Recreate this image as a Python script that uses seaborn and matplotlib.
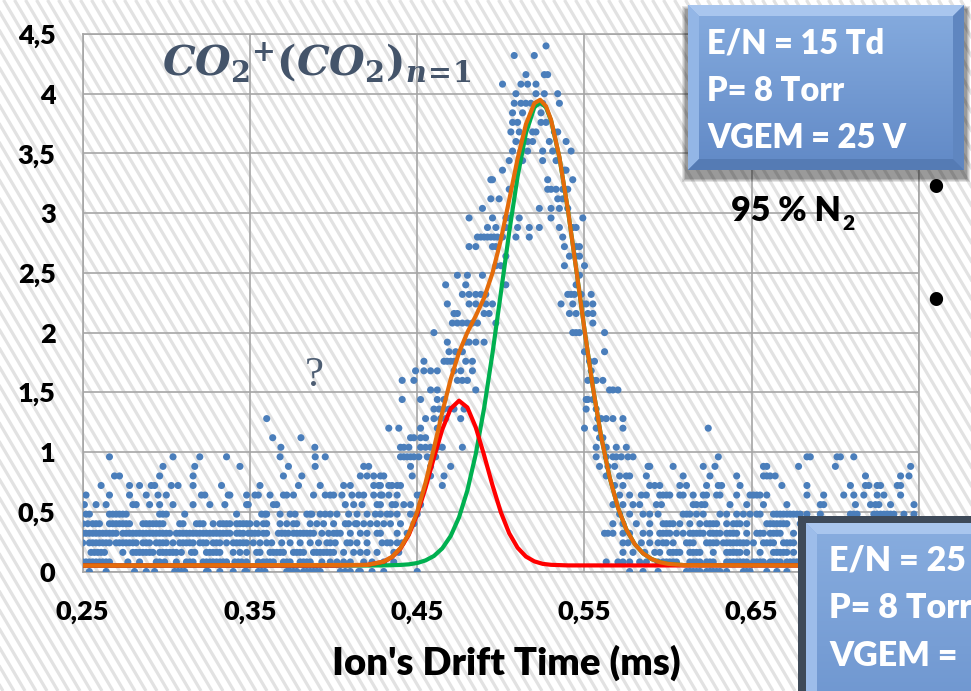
import numpy as np
import pandas as pd
import matplotlib
matplotlib.use("Agg")
import matplotlib.pyplot as plt
import seaborn as sns
from matplotlib.patches import Rectangle, Polygon
from matplotlib.collections import LineCollection
from matplotlib.colors import LinearSegmentedColormap

# ---------------- data ----------------
# signal is quantised in steps of 0.08; each list = drift times (ms) of the dots at that level
y000 = [0.254, 0.264, 0.281, 0.288, 0.293, 0.305, 0.307, 0.309, 0.311, 0.324, 0.325, 0.332, 0.340, 0.347, 0.348,
        0.355, 0.357, 0.359, 0.372, 0.373, 0.374, 0.376, 0.378, 0.382, 0.384, 0.386, 0.388, 0.390, 0.392, 0.404,
        0.407, 0.410, 0.415, 0.416, 0.423, 0.430, 0.450, 0.577, 0.585, 0.594, 0.611, 0.613, 0.615, 0.617, 0.619,
        0.623, 0.625, 0.627, 0.629, 0.631, 0.635, 0.645, 0.647, 0.649, 0.659, 0.665, 0.671]
y008 = [0.250, 0.252, 0.254, 0.256, 0.258, 0.260, 0.262, 0.264, 0.266, 0.277, 0.284, 0.294, 0.296, 0.299, 0.306,
        0.312, 0.314, 0.316, 0.322, 0.324, 0.326, 0.328, 0.330, 0.332, 0.334, 0.336, 0.341, 0.343, 0.345, 0.348,
        0.355, 0.358, 0.360, 0.362, 0.364, 0.370, 0.372, 0.374, 0.380, 0.382, 0.384, 0.386, 0.393, 0.398, 0.402,
        0.406, 0.410, 0.418, 0.423, 0.430, 0.436, 0.563, 0.570, 0.573, 0.577, 0.583, 0.587, 0.594, 0.597, 0.599,
        0.601, 0.603, 0.605, 0.613, 0.615, 0.617, 0.619, 0.623, 0.625, 0.627, 0.635, 0.637, 0.639, 0.641, 0.643,
        0.645, 0.647, 0.651, 0.653, 0.655, 0.657, 0.661, 0.663, 0.665, 0.667, 0.671, 0.673, 0.675, 0.677]
y016 = [0.255, 0.257, 0.259, 0.261, 0.263, 0.274, 0.280, 0.282, 0.284, 0.286, 0.288, 0.290, 0.292, 0.296, 0.298,
        0.300, 0.302, 0.304, 0.306, 0.309, 0.315, 0.317, 0.324, 0.326, 0.328, 0.330, 0.332, 0.340, 0.344, 0.348,
        0.354, 0.356, 0.362, 0.364, 0.366, 0.368, 0.370, 0.376, 0.378, 0.380, 0.382, 0.388, 0.390, 0.392, 0.394,
        0.396, 0.398, 0.400, 0.406, 0.412, 0.416, 0.420, 0.426, 0.436, 0.439, 0.573, 0.579, 0.586, 0.592, 0.595,
        0.601, 0.603, 0.605, 0.607, 0.613, 0.615, 0.617, 0.619, 0.627, 0.635, 0.637, 0.639, 0.641, 0.643, 0.647,
        0.655, 0.663, 0.665, 0.667, 0.669, 0.671, 0.675]
y024 = [0.250, 0.254, 0.256, 0.258, 0.260, 0.262, 0.264, 0.266, 0.270, 0.272, 0.274, 0.276, 0.278, 0.280, 0.282,
        0.286, 0.288, 0.290, 0.294, 0.296, 0.298, 0.300, 0.304, 0.308, 0.310, 0.312, 0.314, 0.316, 0.320, 0.322,
        0.324, 0.328, 0.330, 0.332, 0.336, 0.340, 0.342, 0.344, 0.346, 0.348, 0.352, 0.356, 0.360, 0.363, 0.369,
        0.374, 0.380, 0.386, 0.391, 0.396, 0.398, 0.401, 0.408, 0.410, 0.414, 0.420, 0.429, 0.432, 0.434, 0.438,
        0.441, 0.573, 0.576, 0.584, 0.589, 0.594, 0.597, 0.599, 0.603, 0.611, 0.613, 0.615, 0.623, 0.625, 0.627,
        0.629, 0.633, 0.635, 0.637, 0.639, 0.641, 0.643, 0.645, 0.647, 0.651, 0.657, 0.659, 0.661, 0.663, 0.669,
        0.671, 0.673, 0.675]
y032 = [0.250, 0.252, 0.254, 0.256, 0.258, 0.260, 0.262, 0.264, 0.266, 0.268, 0.270, 0.274, 0.276, 0.278, 0.280,
        0.282, 0.284, 0.286, 0.288, 0.290, 0.292, 0.294, 0.296, 0.298, 0.300, 0.302, 0.306, 0.308, 0.310, 0.312,
        0.314, 0.316, 0.318, 0.320, 0.322, 0.324, 0.326, 0.328, 0.330, 0.332, 0.334, 0.336, 0.338, 0.342, 0.344,
        0.346, 0.349, 0.351, 0.353, 0.355, 0.358, 0.360, 0.367, 0.369, 0.371, 0.373, 0.376, 0.378, 0.380, 0.382,
        0.384, 0.386, 0.388, 0.393, 0.397, 0.400, 0.402, 0.404, 0.410, 0.416, 0.420, 0.426, 0.428, 0.438, 0.444,
        0.562, 0.564, 0.567, 0.573, 0.577, 0.585, 0.589, 0.595, 0.597, 0.599, 0.601, 0.605, 0.609, 0.613, 0.615,
        0.617, 0.619, 0.621, 0.625, 0.627, 0.629, 0.631, 0.635, 0.637, 0.639, 0.641, 0.647, 0.653, 0.655, 0.657,
        0.661, 0.663, 0.665, 0.667, 0.675]
y040 = [0.250, 0.253, 0.256, 0.258, 0.260, 0.266, 0.268, 0.270, 0.272, 0.274, 0.276, 0.278, 0.286, 0.288, 0.290,
        0.292, 0.294, 0.296, 0.298, 0.308, 0.310, 0.318, 0.320, 0.322, 0.328, 0.332, 0.334, 0.336, 0.338, 0.342,
        0.344, 0.346, 0.348, 0.350, 0.354, 0.358, 0.360, 0.368, 0.372, 0.376, 0.378, 0.386, 0.390, 0.394, 0.400,
        0.407, 0.409, 0.413, 0.414, 0.418, 0.422, 0.426, 0.430, 0.434, 0.440, 0.448, 0.567, 0.573, 0.581, 0.589,
        0.597, 0.599, 0.601, 0.603, 0.607, 0.613, 0.619, 0.623, 0.625, 0.627, 0.629, 0.635, 0.639, 0.641, 0.643,
        0.647, 0.659, 0.661, 0.663, 0.665, 0.667, 0.669, 0.671, 0.679]
y048 = [0.252, 0.254, 0.266, 0.268, 0.270, 0.272, 0.274, 0.276, 0.296, 0.298, 0.300, 0.311, 0.342, 0.357, 0.359,
        0.360, 0.368, 0.374, 0.377, 0.384, 0.386, 0.387, 0.392, 0.395, 0.398, 0.402, 0.409, 0.414, 0.420, 0.425,
        0.428, 0.432, 0.434, 0.438, 0.446, 0.450, 0.571, 0.577, 0.585, 0.589, 0.594, 0.609, 0.611, 0.613, 0.617,
        0.621, 0.631, 0.635, 0.641, 0.645, 0.649, 0.653, 0.655, 0.663, 0.665, 0.667, 0.669, 0.671, 0.673, 0.675,
        0.677, 0.679, 0.683, 0.691, 0.709, 0.711, 0.713, 0.723, 0.725, 0.727, 0.729, 0.731, 0.733, 0.735, 0.741,
        0.747]
y056 = [0.251, 0.258, 0.264, 0.280, 0.282, 0.290, 0.296, 0.304, 0.316, 0.326, 0.335, 0.348, 0.349, 0.364, 0.366,
        0.407, 0.412, 0.417, 0.426, 0.428, 0.435, 0.437, 0.442, 0.446, 0.452, 0.567, 0.573, 0.579, 0.583, 0.593,
        0.596, 0.615, 0.617, 0.620, 0.622, 0.637, 0.647, 0.657, 0.671, 0.691, 0.693, 0.712, 0.721, 0.724, 0.726,
        0.733, 0.747]
y064 = [0.252, 0.266, 0.278, 0.288, 0.295, 0.300, 0.321, 0.323, 0.337, 0.338, 0.348, 0.353, 0.355, 0.362, 0.370,
        0.372, 0.376, 0.388, 0.395, 0.398, 0.400, 0.405, 0.411, 0.415, 0.418, 0.424, 0.428, 0.429, 0.433, 0.438,
        0.450, 0.452, 0.571, 0.577, 0.584, 0.587, 0.595, 0.597, 0.599, 0.601, 0.607, 0.609, 0.615, 0.621, 0.623,
        0.629, 0.631, 0.641, 0.649, 0.651, 0.653, 0.655, 0.659, 0.683, 0.693, 0.705, 0.711, 0.717, 0.725, 0.729,
        0.739]
y072 = [0.261, 0.278, 0.284, 0.291, 0.293, 0.303, 0.307, 0.316, 0.333, 0.356, 0.379, 0.392, 0.406, 0.410, 0.424,
        0.427, 0.428, 0.433, 0.435, 0.438, 0.440, 0.465, 0.568, 0.573, 0.589, 0.592, 0.595, 0.607, 0.611, 0.623,
        0.630, 0.632, 0.643, 0.668, 0.683, 0.709, 0.718, 0.720, 0.725, 0.727, 0.737, 0.739]
y080 = [0.269, 0.272, 0.296, 0.316, 0.370, 0.381, 0.416, 0.420, 0.424, 0.428, 0.430, 0.447, 0.458, 0.466, 0.563,
        0.571, 0.575, 0.577, 0.587, 0.609, 0.625, 0.641, 0.657, 0.659, 0.661, 0.664, 0.718, 0.739, 0.744]
y088 = [0.298, 0.317, 0.344, 0.373, 0.389, 0.418, 0.421, 0.446, 0.458, 0.470, 0.559, 0.564, 0.568, 0.588, 0.589,
        0.603, 0.621, 0.628, 0.657, 0.659, 0.678, 0.700, 0.745]
y096 = [0.266, 0.304, 0.320, 0.336, 0.368, 0.389, 0.395, 0.440, 0.442, 0.444, 0.446, 0.448, 0.451, 0.456, 0.459,
        0.461, 0.557, 0.563, 0.567, 0.569, 0.572, 0.576, 0.579, 0.630, 0.683, 0.685, 0.701, 0.703, 0.711]
y104 = [0.3685, 0.3888, 0.440, 0.442, 0.445, 0.452, 0.455, 0.458, 0.462, 0.465, 0.477, 0.557, 0.563, 0.569, 0.575]
y112 = [0.3636, 0.3805, 0.446, 0.448, 0.452, 0.455, 0.559, 0.561]
y120 = [0.433, 0.439, 0.452, 0.462, 0.550, 0.557, 0.573, 0.624]
y128 = [0.360, 0.455, 0.460, 0.464, 0.467, 0.476, 0.558, 0.560, 0.563, 0.567, 0.573]
y136 = [0.460, 0.463, 0.466, 0.469, 0.472, 0.478, 0.551, 0.557]
y144 = [0.441, 0.452, 0.462, 0.466, 0.551, 0.552, 0.555]
y152 = [0.458, 0.462, 0.485, 0.565, 0.567, 0.570]
y160 = [0.441, 0.448, 0.474, 0.477, 0.480, 0.552, 0.555, 0.557, 0.561]
y168 = [0.449, 0.454, 0.458, 0.462, 0.472, 0.476, 0.483, 0.554]
y176 = [0.454, 0.466, 0.468, 0.470, 0.472, 0.479, 0.483, 0.553, 0.556]
y184 = [0.469, 0.473, 0.477, 0.550, 0.562]
y192 = [0.468, 0.479, 0.481, 0.485, 0.490]
y200 = [0.460, 0.543, 0.545, 0.547, 0.562]
y208 = [0.471, 0.474, 0.477, 0.480, 0.483, 0.486, 0.497, 0.555]
y216 = [0.472, 0.474, 0.490, 0.493, 0.541, 0.545, 0.552, 0.555]
y224 = [0.468, 0.481, 0.485, 0.491, 0.495, 0.536, 0.543, 0.549, 0.551, 0.555]
y232 = [0.477, 0.481, 0.485, 0.488, 0.491, 0.540, 0.542, 0.544, 0.548, 0.554]
y240 = [0.467, 0.479, 0.503, 0.545]
y248 = [0.474, 0.480, 0.489, 0.547]
y256 = [0.497, 0.500, 0.538, 0.550]
y264 = [0.503, 0.541, 0.545, 0.547]
y272 = [0.481, 0.485, 0.495, 0.497, 0.538, 0.545, 0.547]
y280 = [0.486, 0.488, 0.490, 0.492, 0.494, 0.496, 0.498, 0.501, 0.509, 0.517, 0.537]
y288 = [0.492, 0.497, 0.503, 0.510, 0.517, 0.523, 0.535, 0.543, 0.545]
y296 = [0.481, 0.495, 0.503, 0.505, 0.511, 0.530, 0.549]
y304 = [0.489, 0.523, 0.530, 0.535, 0.540]
y312 = [0.494, 0.499, 0.534, 0.537]
y320 = [0.505, 0.528, 0.530, 0.533, 0.537, 0.540]
y328 = [0.494, 0.495, 0.528, 0.543]
y336 = [0.501, 0.538, 0.539]
y344 = [0.505, 0.513, 0.525, 0.533]
y352 = [0.507, 0.512, 0.516, 0.525, 0.531, 0.542]
y360 = [0.509, 0.513, 0.516, 0.519, 0.529, 0.539]
y368 = [0.506, 0.511, 0.519, 0.521, 0.532, 0.534]
y376 = [0.507, 0.510, 0.524, 0.527]
y384 = [0.507, 0.513, 0.524]
y392 = [0.508, 0.512, 0.515, 0.518, 0.522, 0.525, 0.535]
y400 = [0.509, 0.521, 0.526, 0.534]
y408 = [0.501, 0.512, 0.516, 0.521]
y416 = [0.515, 0.526, 0.528]
y432 = [0.508, 0.520]
y440 = [0.527]

level_values = [0.00, 0.08, 0.16, 0.24, 0.32, 0.40, 0.48, 0.56, 0.64, 0.72, 0.80, 0.88, 0.96,
                1.04, 1.12, 1.20, 1.28, 1.36, 1.44, 1.52, 1.60, 1.68, 1.76, 1.84, 1.92, 2.00,
                2.08, 2.16, 2.24, 2.32, 2.40, 2.48, 2.56, 2.64, 2.72, 2.80, 2.88, 2.96, 3.04,
                3.12, 3.20, 3.28, 3.36, 3.44, 3.52, 3.60, 3.68, 3.76, 3.84, 3.92, 4.00, 4.08,
                4.16, 4.32, 4.40]
level_points = [y000, y008, y016, y024, y032, y040, y048, y056, y064, y072, y080, y088, y096,
                y104, y112, y120, y128, y136, y144, y152, y160, y168, y176, y184, y192, y200,
                y208, y216, y224, y232, y240, y248, y256, y264, y272, y280, y288, y296, y304,
                y312, y320, y328, y336, y344, y352, y360, y368, y376, y384, y392, y400, y408,
                y416, y432, y440]

# fitted curves
red_x = [0.25, 0.40, 0.42, 0.43, 0.435, 0.44, 0.445, 0.45, 0.455, 0.46, 0.465, 0.47, 0.475, 0.48, 0.485,
         0.49, 0.495, 0.50, 0.505, 0.51, 0.515, 0.52, 0.525, 0.53, 0.54, 0.75]
red_y = [0.05, 0.05, 0.055, 0.082, 0.121, 0.192, 0.308, 0.480, 0.702, 0.953, 1.190, 1.363, 1.430, 1.373, 1.207,
         0.973, 0.722, 0.496, 0.320, 0.199, 0.125, 0.085, 0.064, 0.056, 0.051, 0.05]
green_x = [0.25, 0.42, 0.43, 0.44, 0.445, 0.45, 0.455, 0.46, 0.465, 0.47, 0.475, 0.48, 0.485, 0.49, 0.495,
           0.50, 0.505, 0.51, 0.515, 0.52, 0.5235, 0.527, 0.53, 0.535, 0.54, 0.545, 0.55, 0.555, 0.56, 0.565,
           0.57, 0.575, 0.58, 0.585, 0.59, 0.595, 0.60, 0.61, 0.75]
green_y = [0.05, 0.050, 0.051, 0.055, 0.060, 0.071, 0.093, 0.130, 0.194, 0.297, 0.454, 0.679, 0.983, 1.368,
           1.827, 2.331, 2.842, 3.306, 3.670, 3.885, 3.930, 3.885, 3.776, 3.467, 3.036, 2.537, 2.025, 1.544,
           1.127, 0.790, 0.535, 0.353, 0.230, 0.152, 0.105, 0.078, 0.064, 0.053, 0.05]
orange_x = [0.25, 0.42, 0.43, 0.435, 0.44, 0.445, 0.45, 0.455, 0.46, 0.465, 0.47, 0.475, 0.48, 0.485, 0.49,
            0.495, 0.50, 0.505, 0.51, 0.515, 0.52, 0.5235, 0.527, 0.53, 0.535, 0.54, 0.545, 0.55, 0.555, 0.56,
            0.565, 0.57, 0.575, 0.58, 0.585, 0.59, 0.595, 0.60, 0.61, 0.75]
orange_y = [0.05, 0.055, 0.083, 0.123, 0.197, 0.318, 0.501, 0.745, 1.033, 1.334, 1.610, 1.834, 2.002, 2.140,
            2.291, 2.499, 2.777, 3.112, 3.455, 3.745, 3.920, 3.949, 3.895, 3.782, 3.470, 3.037, 2.537, 2.025,
            1.544, 1.127, 0.790, 0.535, 0.353, 0.230, 0.152, 0.105, 0.078, 0.064, 0.053, 0.05]

x_ticks = [0.25, 0.35, 0.45, 0.55, 0.65, 0.75]
x_tick_labels = ["0,25", "0,35", "0,45", "0,55", "0,65", ""]   # 0,75 is hidden behind the lower box
y_ticks = [0, 0.5, 1, 1.5, 2, 2.5, 3, 3.5, 4, 4.5]
y_tick_labels = ["0", "0,5", "1", "1,5", "2", "2,5", "3", "3,5", "4", "4,5"]

box1_lines = ["E/N = 15 Td", "P= 8 Torr", "VGEM = 25 V"]
box2_lines = ["E/N = 25", "P= 8 Torr", "VGEM ="]   # visible part of the cropped box

# ---------------- figure ----------------
sns.set_theme(style="white")
plt.rcParams['font.family'] = ['Lato', 'DejaVu Sans']
plt.rcParams['mathtext.fontset'] = 'custom'
plt.rcParams['mathtext.it'] = 'DejaVu Serif:italic:bold'
plt.rcParams['mathtext.rm'] = 'DejaVu Serif:bold'
plt.rcParams['mathtext.bf'] = 'DejaVu Serif:bold'

W, H = 971, 691
fig = plt.figure(figsize=(W / 100, H / 100), dpi=100)
fig.patch.set_facecolor('white')

# diagonal stripe background
bg = fig.add_axes([0, 0, 1, 1], zorder=-2)
bg.set_xlim(0, W)
bg.set_ylim(H, 0)
bg.axis('off')
slope = 1.7
segs = [[(x0, 0), (x0 + H / slope, H)] for x0 in np.arange(-H / slope - 30, W + 30, 11)]
bg.add_collection(LineCollection(segs, colors='#e2e2e2', linewidths=2.3))

# main axes
gcol = '#a6a6a6'
ax = fig.add_axes([82.7 / W, 1 - 571.5 / H, (919 - 82.7) / W, (571.5 - 34) / H], zorder=0)
ax.patch.set_alpha(0)

rows = [(xv, yv) for yv, xs in zip(level_values, level_points) for xv in xs]
df = pd.DataFrame(rows, columns=["drift_time", "signal"])
sns.scatterplot(data=df, x="drift_time", y="signal", ax=ax, s=26, color='#4a7ebb',
                edgecolor='none', linewidth=0, zorder=3, legend=False)

sns.lineplot(x=green_x, y=green_y, ax=ax, color='#00b050', lw=3.0, sort=False, estimator=None, zorder=4)
sns.lineplot(x=red_x, y=red_y, ax=ax, color='#ff0000', lw=3.0, sort=False, estimator=None, zorder=5)
sns.lineplot(x=orange_x, y=orange_y, ax=ax, color='#e46c0a', lw=3.0, sort=False, estimator=None, zorder=6)

ax.set_xlim(0.25, 0.75)
ax.set_ylim(0, 4.5)
ax.set_xticks(x_ticks)
ax.set_xticklabels(x_tick_labels)
ax.set_yticks(y_ticks)
ax.set_yticklabels(y_tick_labels)
ax.set_axisbelow(True)
ax.grid(True, color=gcol, lw=1.2)
for s in ax.spines.values():
    s.set_visible(True)
    s.set_color(gcol)
    s.set_linewidth(1.2)
ax.tick_params(axis='both', length=7.5, width=1.2, color=gcol, labelsize=19.5, labelcolor='black')
ax.tick_params(axis='y', pad=12)
ax.tick_params(axis='x', pad=13)
for lab in ax.get_xticklabels() + ax.get_yticklabels():
    lab.set_fontweight('heavy')
ax.set_xlabel("")
ax.set_ylabel("")

# overlay in pixel coordinates
ov = fig.add_axes([0, 0, 1, 1], zorder=5)
ov.axis('off')


def bevel_box(x0, y0, x1, y1, b, ftop, fbot, ctop, cleft, cright, cbot, z=6):
    cmap = LinearSegmentedColormap.from_list('g', [ftop, fbot])
    grad = np.linspace(0, 1, 64)[:, None]
    ov.imshow(grad, extent=[x0, x1, y1, y0], cmap=cmap, aspect='auto', zorder=z, interpolation='bilinear')
    ov.add_patch(Polygon([(x0, y0), (x1, y0), (x1 - b, y0 + b), (x0 + b, y0 + b)], closed=True,
                         facecolor=ctop, edgecolor='none', zorder=z + 0.1))
    ov.add_patch(Polygon([(x0, y0), (x0 + b, y0 + b), (x0 + b, y1 - b), (x0, y1)], closed=True,
                         facecolor=cleft, edgecolor='none', zorder=z + 0.1))
    ov.add_patch(Polygon([(x1, y0), (x1, y1), (x1 - b, y1 - b), (x1 - b, y0 + b)], closed=True,
                         facecolor=cright, edgecolor='none', zorder=z + 0.1))
    ov.add_patch(Polygon([(x0, y1), (x0 + b, y1 - b), (x1 - b, y1 - b), (x1, y1)], closed=True,
                         facecolor=cbot, edgecolor='none', zorder=z + 0.1))


# box 1 with soft shadow
for i, a in enumerate([0.10, 0.10, 0.12, 0.14]):
    d = 4 - i
    ov.add_patch(Rectangle((686 - d, 10 - d), 280 + 2 * d, 168 + 2 * d, facecolor='black', alpha=a,
                           edgecolor='none', zorder=5))
bevel_box(688, 5, 964, 170, 11, '#86acdf', '#6189c6', '#a9c6ee', '#93b6e6', '#5f86c0', '#557bb4')
for i, t in enumerate(box1_lines):
    ov.text(707, 53 + 47.5 * i, t, color='white', fontsize=23.5, fontweight='heavy', va='baseline', zorder=8)

# box 2 (dark frame + bevelled blue)
ov.add_patch(Rectangle((798, 516), 200, 200, facecolor='#3e4a59', edgecolor='none', zorder=6))
bevel_box(806, 523, 1000, 720, 11, '#88addf', '#6d95cf', '#a9c6ee', '#9dbdea', '#5f86c0', '#557bb4', z=6.5)
for i, t in enumerate(box2_lines):
    ov.text(829, 570 + 48 * i, t, color='white', fontsize=24.5, fontweight='heavy', va='baseline', zorder=8)

# annotations
ov.text(162, 76, r'${CO_2}^{+}(CO_2)_{n\!=\!1}$', fontsize=29.5, color='#44546a', va='baseline', zorder=8)
ov.text(314, 386, '?', fontsize=31, family=['Liberation Serif', 'DejaVu Serif'], color='#4d5d72',
        ha='center', va='baseline', zorder=8)
t95 = ov.text(731, 221, '95 % N', fontsize=24.5, fontweight='heavy', color='black', va='baseline', zorder=8)
ov.annotate('2', xy=(1.0, 0.12), xycoords=t95, xytext=(1, 0), textcoords='offset points',
            fontsize=15, fontweight='heavy', color='black', ha='left', va='center', zorder=8)
ov.text(936, 186, '•', fontsize=26, color='black', ha='center', va='center', zorder=8)
ov.text(936, 299, '•', fontsize=26, color='black', ha='center', va='center', zorder=8)
ov.text(506, 663, "Ion's Drift Time (ms)", fontsize=27.5, fontweight='heavy', color='black',
        ha='center', va='center', zorder=8)

ov.set_xlim(0, W)
ov.set_ylim(H, 0)

fig.savefig("out.png", dpi=100)
